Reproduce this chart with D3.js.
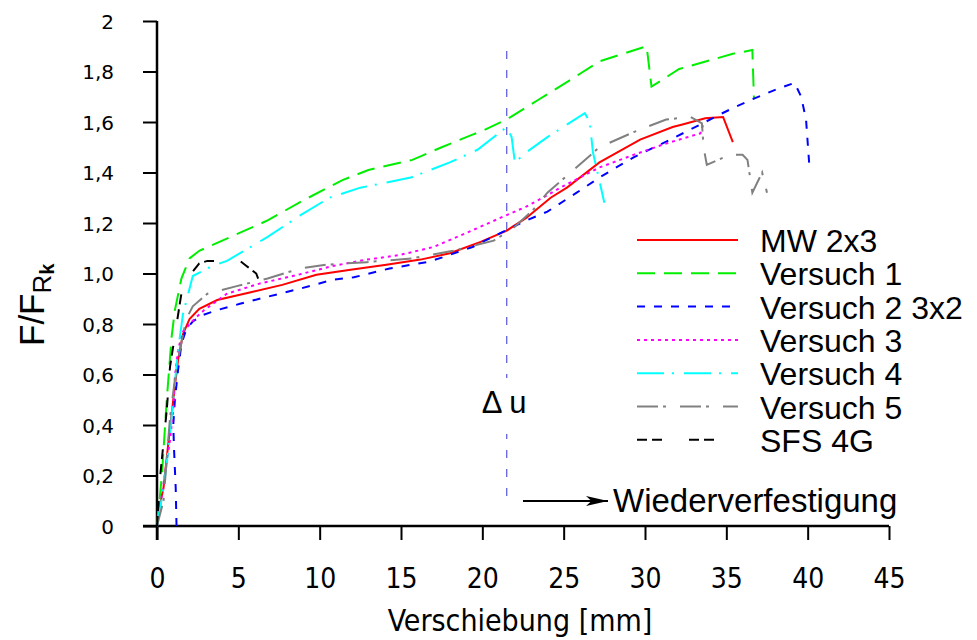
<!DOCTYPE html>
<html><head><meta charset="utf-8">
<script src="https://cdn.jsdelivr.net/npm/d3@7/dist/d3.min.js"></script>
<style>body{margin:0;background:#fff}svg{display:block}</style>
</head><body><svg id="c" width="977" height="640"></svg>
<script>
// ---------- data ----------
const xTicks = [0, 5, 10, 15, 20, 25, 30, 35, 40, 45];
const yTicks = [0, 0.2, 0.4, 0.6, 0.8, 1.0, 1.2, 1.4, 1.6, 1.8, 2.0];
const yTickLabels = ["0", "0,2", "0,4", "0,6", "0,8", "1,0", "1,2", "1,4", "1,6", "1,8", "2"];
const seriesNames = ["MW 2x3", "Versuch 1", "Versuch 2 3x2", "Versuch 3", "Versuch 4", "Versuch 5", "SFS 4G"];

const mw2x3 = [[0,0],[0.06,0.05],[0.4,0.15],[0.7,0.33],[1.0,0.5],[1.3,0.66],[1.6,0.76],[2.0,0.82],[2.6,0.86],[3.7,0.895],[5.7,0.925],[7.7,0.955],[9.8,0.995],[11.9,1.015],[14.1,1.035],[16.2,1.055],[18.0,1.08],[19.9,1.125],[21.5,1.17],[22.7,1.22],[24.2,1.30],[25.2,1.34],[27.2,1.44],[28.3,1.48],[29.7,1.53],[31.7,1.58],[32.3,1.59],[33.7,1.615],[34.8,1.62],[35.4,1.52]];
const versuch1 = [[0,0],[0.3,0.2],[0.6,0.5],[0.9,0.75],[1.1,0.855],[1.5,0.98],[2.0,1.06],[2.6,1.09],[4.7,1.15],[6.8,1.21],[8.8,1.283],[11.4,1.37],[13.0,1.41],[15.7,1.45],[17.5,1.50],[19.4,1.55],[20.0,1.565],[21.5,1.61],[23.5,1.69],[25.0,1.75],[27.2,1.84],[30.1,1.90],[30.4,1.74],[32.1,1.81],[35.4,1.87],[36.6,1.885],[36.7,1.69]];
const versuch2 = [[1.2,0],[1.15,0.15],[1.05,0.3],[1.0,0.4],[1.1,0.5],[1.3,0.62],[1.5,0.72],[1.8,0.78],[2.2,0.81],[2.8,0.835],[3.7,0.855],[5.1,0.88],[6.3,0.90],[8.8,0.94],[10.8,0.975],[12.1,0.985],[14.3,1.02],[16.6,1.045],[17.6,1.065],[19.4,1.105],[21.1,1.16],[22.7,1.21],[24.0,1.245],[25.8,1.32],[27.2,1.38],[28.5,1.43],[29.3,1.46],[30.9,1.51],[31.7,1.535],[33.4,1.59],[34.6,1.63],[35.4,1.655],[36.6,1.69],[38.1,1.73],[39.2,1.755],[39.6,1.70],[39.9,1.61],[40.1,1.43]];
const versuch3 = [[0,0],[0.2,0.08],[0.5,0.21],[0.8,0.34],[1.0,0.46],[1.1,0.59],[1.3,0.70],[1.6,0.77],[2.3,0.82],[2.9,0.855],[4.3,0.92],[6.3,0.96],[8.8,0.997],[10.8,1.03],[12.9,1.055],[14.9,1.073],[17.0,1.105],[19.0,1.16],[21.1,1.22],[22.7,1.265],[24.0,1.31],[24.8,1.34],[27.2,1.42],[29.3,1.47],[31.3,1.515],[33.4,1.555],[33.6,1.595]];
const versuch4 = [[0,0],[0.4,0.15],[0.7,0.3],[1.0,0.5],[1.3,0.7],[1.6,0.84],[2.2,0.99],[3.4,1.03],[4.3,1.05],[6.8,1.145],[8.8,1.23],[10.6,1.30],[12.5,1.34],[14.1,1.36],[15.6,1.38],[18.0,1.44],[19.7,1.49],[21.1,1.56],[21.5,1.58],[21.8,1.54],[22.0,1.44],[22.7,1.48],[24.0,1.54],[26.3,1.635],[26.6,1.60],[26.8,1.48],[27.5,1.28]];
const versuch5 = [[0,0],[0.4,0.1],[0.8,0.43],[1.2,0.63],[1.8,0.82],[2.2,0.87],[3.1,0.92],[4.9,0.95],[6.8,0.98],[8.8,1.02],[10.4,1.035],[12.9,1.045],[15.7,1.06],[18.2,1.09],[20.7,1.13],[21.9,1.18],[23.1,1.25],[24.0,1.32],[25.6,1.41],[27.2,1.50],[29.3,1.56],[31.3,1.61],[32.8,1.62],[33.5,1.595],[33.6,1.50],[33.8,1.43],[35.2,1.47],[36.0,1.47],[36.3,1.45],[36.6,1.32],[37.2,1.40],[37.5,1.32]];
const sfs4g = [[0,0],[0.2,0.2],[0.6,0.46],[0.8,0.63],[1.4,0.88],[1.6,0.96],[2.6,1.04],[3.1,1.05],[5.1,1.05],[5.5,1.03],[6.1,1.0],[6.45,0.94]];
const seriesData = [mw2x3, versuch1, versuch2, versuch3, versuch4, versuch5, sfs4g];
const deltaU = 21.5;
const deltaULabel = "\u0394 u";
const arrowLabel = "Wiederverfestigung";
const xTitle = "Verschiebung [mm]";

// ---------- styles ----------
const colors = ["#ff0000", "#00ee00", "#0000ff", "#ff00ff", "#00ffff", "#808080", "#000000"];
const dashes = [null, "18,9", "8,9", "3,4", "27,8,2,10", "21,5,3,14", "10,5,10,27"];

// ---------- layout ----------
const svg = d3.select("#c");
const x = d3.scaleLinear().domain([0, 45]).range([157, 889]);
const y = d3.scaleLinear().domain([0, 2]).range([526, 21]);
const tick = 14;

// axes
const gx = svg.append("g").attr("transform", `translate(0,${y(0)})`)
  .call(d3.axisBottom(x).tickValues(xTicks).tickSizeInner(tick).tickSizeOuter(0).tickFormat(d3.format("d")));
gx.select(".domain").remove();
gx.selectAll(".tick line").attr("stroke", "#000").attr("stroke-width", 2);
gx.selectAll(".tick text").attr("y", 52).attr("dy", "0.36em")
  .style("font-family", "'DejaVu Sans Condensed','DejaVu Sans',sans-serif").style("font-stretch", "condensed")
  .style("font-size", "28px").attr("fill", "#000");

const gy = svg.append("g").attr("transform", `translate(${x(0)},0)`)
  .call(d3.axisLeft(y).tickValues(yTicks).tickSizeInner(tick).tickSizeOuter(0).tickPadding(29)
    .tickFormat((d, i) => yTickLabels[i]));
gy.select(".domain").remove();
gy.selectAll(".tick line").attr("stroke", "#000").attr("stroke-width", 2);
gy.selectAll(".tick text").attr("dy", "0.36em")
  .style("font-family", "'DejaVu Sans',Verdana,sans-serif").style("font-size", "20px").attr("fill", "#000");

// axis lines
svg.append("line").attr("x1", x(0) - tick).attr("x2", x(45)).attr("y1", y(0)).attr("y2", y(0))
  .attr("stroke", "#000").attr("stroke-width", 2.5);
svg.append("line").attr("x1", x(0)).attr("x2", x(0)).attr("y1", y(0) + tick).attr("y2", y(2))
  .attr("stroke", "#000").attr("stroke-width", 2.5);

// axis titles
svg.append("text").attr("x", 520).attr("y", 631).attr("text-anchor", "middle")
  .style("font-family", "'DejaVu Sans Condensed','DejaVu Sans',sans-serif").style("font-stretch", "condensed")
  .style("font-size", "30px").text(xTitle);

const yl = svg.append("text").attr("transform", "translate(44,346) rotate(-90)")
  .style("font-family", "'Liberation Sans',Arial,sans-serif").style("font-size", "35px");
yl.append("tspan").text("F/F");
yl.append("tspan").attr("dy", 7).style("font-size", "26px").text("R");
yl.append("tspan").attr("dy", 3).style("font-size", "20px").style("font-weight", "bold").text("k");

// delta u line
svg.append("line").attr("x1", x(deltaU)).attr("x2", x(deltaU)).attr("y1", 51).attr("y2", 507)
  .attr("stroke", "#5555dd").attr("stroke-width", 1.2).attr("stroke-dasharray", "8,11");
svg.append("rect").attr("x", x(deltaU) - 24).attr("y", 378).attr("width", 50).attr("height", 56).attr("fill", "#fff");
svg.append("text").attr("x", x(deltaU) - 25).attr("y", 413)
  .style("font-family", "'Liberation Sans',Arial,sans-serif").style("font-size", "31px").text(deltaULabel);

// curves
const line = d3.line().x(d => x(d[0])).y(d => y(d[1]));
seriesData.forEach((s, i) => {
  svg.append("path").datum(s).attr("d", line).attr("fill", "none")
    .attr("stroke", colors[i]).attr("stroke-width", 2)
    .attr("stroke-dasharray", dashes[i]);
});

// arrow
svg.append("defs").append("marker").attr("id", "ah").attr("viewBox", "0 0 20 10")
  .attr("refX", 20).attr("refY", 5).attr("markerWidth", 22).attr("markerHeight", 11)
  .attr("markerUnits", "userSpaceOnUse").attr("orient", "auto")
  .append("path").attr("d", "M0,0.5 L20,5 L0,9.5 L5,5 Z").attr("fill", "#000");
svg.append("line").attr("x1", 523).attr("x2", 608).attr("y1", 501).attr("y2", 501)
  .attr("stroke", "#000").attr("stroke-width", 2).attr("marker-end", "url(#ah)");
svg.append("text").attr("x", 613).attr("y", 512)
  .style("font-family", "'Liberation Sans',Arial,sans-serif").style("font-size", "33px").text(arrowLabel);

// legend
const lg = svg.append("g");
seriesNames.forEach((n, i) => {
  const by = 252 + i * 33.3;
  lg.append("line").attr("x1", 637).attr("x2", 738).attr("y1", by - 12).attr("y2", by - 12)
    .attr("stroke", colors[i]).attr("stroke-width", 2).attr("stroke-dasharray", dashes[i]);
  lg.append("text").attr("x", 760).attr("y", by)
    .style("font-family", "'Liberation Sans',Arial,sans-serif").style("font-size", "32px").text(n);
});
</script></body></html>
